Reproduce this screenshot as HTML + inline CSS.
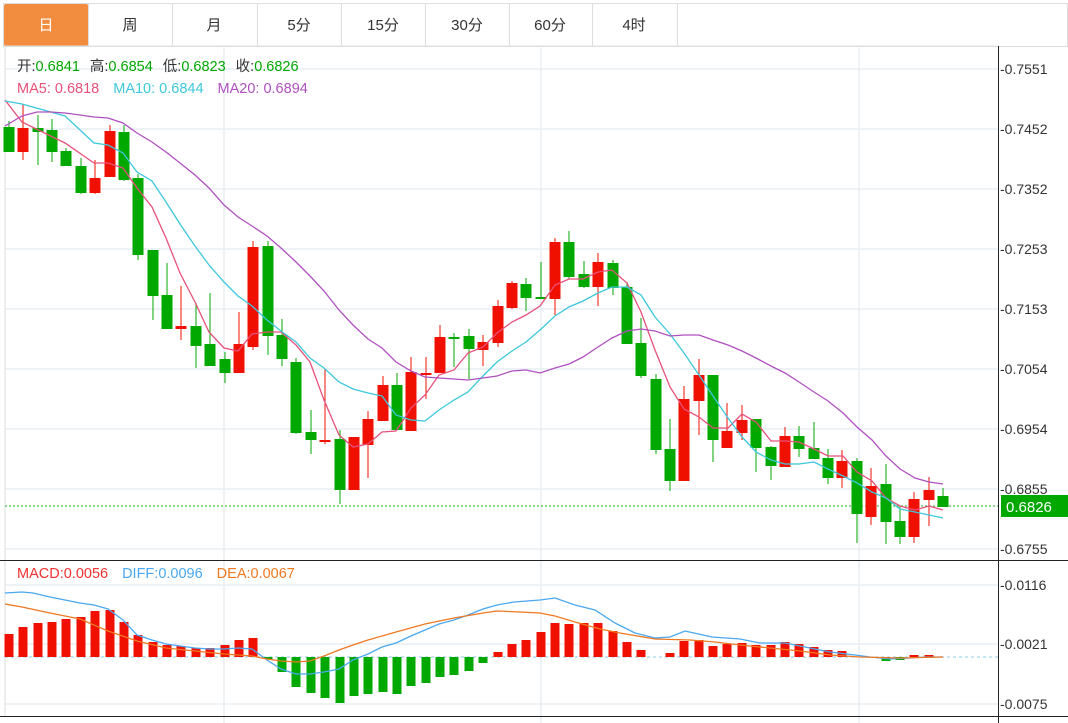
<!DOCTYPE html>
<html><head><meta charset="utf-8"><style>
body{margin:0;background:#fff;width:1068px;height:723px;overflow:hidden;font-family:"Liberation Sans","Noto Sans CJK SC",sans-serif}
svg{position:absolute;left:0;top:0}
.g{fill:#00a800}.r{fill:#f01000}
text{font-family:"Liberation Sans","Noto Sans CJK SC",sans-serif}
</style></head><body>
<svg width="1068" height="723" viewBox="0 0 1068 723">
<!-- tabs -->
<rect x="3.5" y="3.5" width="1064" height="43" fill="#fff" stroke="#ddd"/>
<rect x="4" y="4" width="84" height="42" fill="#f28c3f" rx="2"/>
<g stroke="#ddd"><line x1="88.5" y1="4" x2="88.5" y2="46"/><line x1="172.5" y1="4" x2="172.5" y2="46"/><line x1="257.5" y1="4" x2="257.5" y2="46"/><line x1="341.5" y1="4" x2="341.5" y2="46"/><line x1="425.5" y1="4" x2="425.5" y2="46"/><line x1="509.5" y1="4" x2="509.5" y2="46"/><line x1="592.5" y1="4" x2="592.5" y2="46"/><line x1="677.5" y1="4" x2="677.5" y2="46"/></g>
<g font-size="15" fill="#333" text-anchor="middle">
<text x="46" y="30" fill="#fff">日</text><text x="130" y="30">周</text><text x="214" y="30">月</text><text x="299" y="30">5分</text><text x="383" y="30">15分</text><text x="467" y="30">30分</text><text x="550" y="30">60分</text><text x="634" y="30">4时</text></g>
<!-- grid -->
<g stroke="#e6edf3" stroke-width="1.5">
<line x1="5" y1="69" x2="998" y2="69"/><line x1="5" y1="129" x2="998" y2="129"/><line x1="5" y1="189" x2="998" y2="189"/><line x1="5" y1="249" x2="998" y2="249"/><line x1="5" y1="309" x2="998" y2="309"/><line x1="5" y1="369" x2="998" y2="369"/><line x1="5" y1="429" x2="998" y2="429"/><line x1="5" y1="489" x2="998" y2="489"/><line x1="5" y1="549" x2="998" y2="549"/>
<line x1="5" y1="585" x2="998" y2="585"/><line x1="5" y1="644" x2="998" y2="644"/><line x1="5" y1="704" x2="998" y2="704"/>
<line x1="224" y1="46" x2="224" y2="723"/><line x1="541" y1="46" x2="541" y2="723"/><line x1="859" y1="46" x2="859" y2="723"/>
</g>
<line x1="5" y1="46" x2="998" y2="46" stroke="#e0e0e0"/>
<line x1="5" y1="46" x2="5" y2="717" stroke="#ddd"/>
<line x1="0" y1="560.5" x2="1068" y2="560.5" stroke="#222"/>
<line x1="0" y1="716.5" x2="1068" y2="716.5" stroke="#222"/>
<line x1="998.5" y1="46" x2="998.5" y2="723" stroke="#222"/>
<!-- axis labels -->
<g font-size="14" fill="#333">
<text x="1000" y="74">-0.7551</text><text x="1000" y="134">-0.7452</text><text x="1000" y="194">-0.7352</text><text x="1000" y="254">-0.7253</text><text x="1000" y="314">-0.7153</text><text x="1000" y="374">-0.7054</text><text x="1000" y="434">-0.6954</text><text x="1000" y="494">-0.6855</text><text x="1000" y="554">-0.6755</text>
<text x="1000" y="590">-0.0116</text><text x="1000" y="649">-0.0021</text><text x="1000" y="709">-0.0075</text></g>
<line x1="5" y1="506" x2="998" y2="506" stroke="#1db31d" stroke-dasharray="2,2"/>
<rect x="1001" y="495" width="67" height="22" fill="#00a800"/>
<text x="1006" y="512" font-size="15" fill="#fff">0.6826</text>
<!-- header -->
<g font-size="14.5">
<text x="17" y="71" fill="#333">开:<tspan fill="#00a800">0.6841</tspan><tspan dx="10">高:</tspan><tspan fill="#00a800">0.6854</tspan><tspan dx="10">低:</tspan><tspan fill="#00a800">0.6823</tspan><tspan dx="10">收:</tspan><tspan fill="#00a800">0.6826</tspan></text>
<text x="17" y="93" fill="#e8507a">MA5: 0.6818<tspan dx="14" fill="#3cc8dc">MA10: 0.6844</tspan><tspan dx="14" fill="#b050c0">MA20: 0.6894</tspan></text>
<text x="17" y="578" fill="#f03030">MACD:0.0056<tspan dx="14" fill="#4aa8f0">DIFF:0.0096</tspan><tspan dx="14" fill="#f07820">DEA:0.0067</tspan></text>
</g>
<!-- candles -->
<g>
<rect class="g" x="8.5" y="121" width="1" height="31"/><rect class="g" x="3.5" y="127" width="11" height="25"/>
<rect class="r" x="22.5" y="104" width="1" height="56"/><rect class="r" x="17.5" y="128" width="11" height="24"/>
<rect class="g" x="37.5" y="115" width="1" height="50"/><rect class="g" x="32.5" y="128" width="11" height="4"/>
<rect class="g" x="51.5" y="119" width="1" height="43"/><rect class="g" x="46.5" y="130" width="11" height="22"/>
<rect class="g" x="65.5" y="148" width="1" height="18"/><rect class="g" x="60.5" y="151" width="11" height="15"/>
<rect class="g" x="80.5" y="158" width="1" height="36"/><rect class="g" x="75.5" y="166" width="11" height="27"/>
<rect class="r" x="94.5" y="160" width="1" height="34"/><rect class="r" x="89.5" y="178" width="11" height="15"/>
<rect class="r" x="109.5" y="125" width="1" height="52"/><rect class="r" x="104.5" y="131" width="11" height="46"/>
<rect class="g" x="123.5" y="125" width="1" height="56"/><rect class="g" x="118.5" y="132" width="11" height="48"/>
<rect class="g" x="137.5" y="174" width="1" height="86"/><rect class="g" x="132.5" y="178" width="11" height="77"/>
<rect class="g" x="152.5" y="250" width="1" height="70"/><rect class="g" x="147.5" y="250" width="11" height="46"/>
<rect class="g" x="166.5" y="263" width="1" height="66"/><rect class="g" x="161.5" y="295" width="11" height="34"/>
<rect class="r" x="180.5" y="286" width="1" height="54"/><rect class="r" x="175.5" y="326" width="11" height="3"/>
<rect class="g" x="195.5" y="303" width="1" height="65"/><rect class="g" x="190.5" y="326" width="11" height="20"/>
<rect class="g" x="209.5" y="293" width="1" height="73"/><rect class="g" x="204.5" y="344" width="11" height="22"/>
<rect class="g" x="224.5" y="352" width="1" height="31"/><rect class="g" x="219.5" y="359" width="11" height="14"/>
<rect class="r" x="238.5" y="312" width="1" height="61"/><rect class="r" x="233.5" y="344" width="11" height="29"/>
<rect class="r" x="252.5" y="241" width="1" height="109"/><rect class="r" x="247.5" y="247" width="11" height="100"/>
<rect class="g" x="267.5" y="241" width="1" height="114"/><rect class="g" x="262.5" y="246" width="11" height="90"/>
<rect class="g" x="281.5" y="319" width="1" height="47"/><rect class="g" x="276.5" y="335" width="11" height="24"/>
<rect class="g" x="295.5" y="358" width="1" height="76"/><rect class="g" x="290.5" y="362" width="11" height="71"/>
<rect class="g" x="310.5" y="410" width="1" height="44"/><rect class="g" x="305.5" y="432" width="11" height="8"/>
<rect class="r" x="324.5" y="369" width="1" height="75"/><rect class="r" x="319.5" y="440" width="11" height="2"/>
<rect class="g" x="339.5" y="430" width="1" height="74"/><rect class="g" x="334.5" y="439" width="11" height="51"/>
<rect class="r" x="353.5" y="437" width="1" height="53"/><rect class="r" x="348.5" y="437" width="11" height="53"/>
<rect class="r" x="367.5" y="411" width="1" height="67"/><rect class="r" x="362.5" y="419" width="11" height="26"/>
<rect class="r" x="382.5" y="376" width="1" height="45"/><rect class="r" x="377.5" y="385" width="11" height="36"/>
<rect class="g" x="396.5" y="373" width="1" height="57"/><rect class="g" x="391.5" y="385" width="11" height="45"/>
<rect class="r" x="410.5" y="357" width="1" height="74"/><rect class="r" x="405.5" y="372" width="11" height="59"/>
<rect class="r" x="425.5" y="357" width="1" height="42"/><rect class="r" x="420.5" y="373" width="11" height="2"/>
<rect class="r" x="439.5" y="325" width="1" height="48"/><rect class="r" x="434.5" y="337" width="11" height="36"/>
<rect class="g" x="453.5" y="333" width="1" height="34"/><rect class="g" x="448.5" y="337" width="11" height="2"/>
<rect class="g" x="468.5" y="329" width="1" height="50"/><rect class="g" x="463.5" y="336" width="11" height="13"/>
<rect class="r" x="482.5" y="335" width="1" height="31"/><rect class="r" x="477.5" y="342" width="11" height="8"/>
<rect class="r" x="497.5" y="300" width="1" height="47"/><rect class="r" x="492.5" y="306" width="11" height="37"/>
<rect class="r" x="511.5" y="281" width="1" height="28"/><rect class="r" x="506.5" y="283" width="11" height="25"/>
<rect class="g" x="525.5" y="278" width="1" height="33"/><rect class="g" x="520.5" y="284" width="11" height="14"/>
<rect class="g" x="540.5" y="262" width="1" height="37"/><rect class="g" x="535.5" y="297" width="11" height="2"/>
<rect class="r" x="554.5" y="238" width="1" height="77"/><rect class="r" x="549.5" y="242" width="11" height="57"/>
<rect class="g" x="568.5" y="231" width="1" height="48"/><rect class="g" x="563.5" y="242" width="11" height="35"/>
<rect class="g" x="583.5" y="261" width="1" height="27"/><rect class="g" x="578.5" y="274" width="11" height="13"/>
<rect class="r" x="597.5" y="253" width="1" height="53"/><rect class="r" x="592.5" y="262" width="11" height="25"/>
<rect class="g" x="612.5" y="260" width="1" height="35"/><rect class="g" x="607.5" y="263" width="11" height="25"/>
<rect class="g" x="626.5" y="282" width="1" height="62"/><rect class="g" x="621.5" y="287" width="11" height="57"/>
<rect class="g" x="640.5" y="318" width="1" height="60"/><rect class="g" x="635.5" y="343" width="11" height="33"/>
<rect class="g" x="655.5" y="374" width="1" height="80"/><rect class="g" x="650.5" y="379" width="11" height="71"/>
<rect class="g" x="669.5" y="419" width="1" height="72"/><rect class="g" x="664.5" y="449" width="11" height="32"/>
<rect class="r" x="683.5" y="386" width="1" height="95"/><rect class="r" x="678.5" y="399" width="11" height="82"/>
<rect class="r" x="698.5" y="359" width="1" height="76"/><rect class="r" x="693.5" y="375" width="11" height="26"/>
<rect class="g" x="712.5" y="375" width="1" height="87"/><rect class="g" x="707.5" y="375" width="11" height="65"/>
<rect class="r" x="726.5" y="403" width="1" height="45"/><rect class="r" x="721.5" y="431" width="11" height="17"/>
<rect class="r" x="741.5" y="405" width="1" height="35"/><rect class="r" x="736.5" y="420" width="11" height="13"/>
<rect class="g" x="755.5" y="419" width="1" height="53"/><rect class="g" x="750.5" y="419" width="11" height="29"/>
<rect class="g" x="770.5" y="446" width="1" height="34"/><rect class="g" x="765.5" y="447" width="11" height="19"/>
<rect class="r" x="784.5" y="427" width="1" height="40"/><rect class="r" x="779.5" y="436" width="11" height="31"/>
<rect class="g" x="798.5" y="426" width="1" height="31"/><rect class="g" x="793.5" y="436" width="11" height="13"/>
<rect class="g" x="813.5" y="422" width="1" height="37"/><rect class="g" x="808.5" y="448" width="11" height="11"/>
<rect class="g" x="827.5" y="449" width="1" height="35"/><rect class="g" x="822.5" y="458" width="11" height="20"/>
<rect class="r" x="841.5" y="450" width="1" height="38"/><rect class="r" x="836.5" y="461" width="11" height="17"/>
<rect class="g" x="856.5" y="458" width="1" height="85"/><rect class="g" x="851.5" y="461" width="11" height="53"/>
<rect class="r" x="870.5" y="468" width="1" height="57"/><rect class="r" x="865.5" y="486" width="11" height="31"/>
<rect class="g" x="885.5" y="464" width="1" height="80"/><rect class="g" x="880.5" y="484" width="11" height="38"/>
<rect class="g" x="899.5" y="506" width="1" height="38"/><rect class="g" x="894.5" y="521" width="11" height="16"/>
<rect class="r" x="913.5" y="492" width="1" height="51"/><rect class="r" x="908.5" y="499" width="11" height="38"/>
<rect class="r" x="928.5" y="477" width="1" height="49"/><rect class="r" x="923.5" y="490" width="11" height="10"/>
<rect class="g" x="942.5" y="488" width="1" height="19"/><rect class="g" x="937.5" y="496" width="11" height="11"/>
</g>
<!-- MAs -->
<g fill="none" stroke-width="1.3">
<polyline stroke="#e8507a" points="5,100 22,122 65,143 94,163 108,163 123,168 137,188 152,207 166,238 180,273 195,302 209,332 224,348 238,351 252,334 267,332 281,332 296,345 310,362 324,400 339,435 353,447 368,444 382,432 396,431 411,408 425,395 439,375 454,370 468,353 483,347 497,333 512,322 526,315 540,306 555,285 569,279 583,279 598,272 612,270 627,283 641,312 655,350 670,387 684,409 699,417 713,428 728,428 742,414 756,422 771,441 785,441 799,442 814,449 828,456 843,456 857,472 872,481 886,498 900,506 915,510 929,506 943,510"/>
<polyline stroke="#3cc8dc" points="5,101 22,104 65,116 94,143 108,145 123,153 137,172 152,181 166,202 180,224 195,246 209,265 224,282 238,296 252,306 267,320 281,331 296,342 310,358 324,368 339,382 353,389 368,393 382,396 396,415 411,420 425,421 439,410 454,400 468,392 483,376 497,362 512,351 526,342 540,330 555,316 569,307 583,301 598,293 612,287 627,287 641,295 655,317 670,334 684,353 699,375 713,396 728,418 742,437 756,452 771,460 785,464 799,464 814,462 828,469 843,476 857,483 872,492 886,498 900,509 915,512 929,515 943,518"/>
<polyline stroke="#b050c0" points="5,126 22,116 37,112 51,112 65,113 80,115 94,117 108,118 123,123 137,133 152,142 166,152 180,163 195,175 209,188 224,205 238,217 252,226 267,236 281,248 296,262 310,276 324,291 339,310 353,325 368,339 382,348 396,362 411,371 425,377 439,378 454,379 468,380 483,378 497,376 512,371 526,370 540,373 555,368 569,364 583,357 598,347 612,338 627,331 641,329 655,331 670,336 684,335 699,335 713,340 728,345 742,351 756,358 771,366 785,373 799,382 814,392 828,401 843,413 857,427 872,440 886,456 900,469 915,478 929,482 943,484"/>
</g>
<!-- MACD -->
<line x1="5" y1="657" x2="998" y2="657" stroke="#8cc8e8" stroke-dasharray="3,3"/>
<g>
<rect class="r" x="4.5" y="634" width="9" height="23"/><rect class="r" x="18.5" y="627" width="9" height="30"/><rect class="r" x="33.5" y="623" width="9" height="34"/><rect class="r" x="47.5" y="622" width="9" height="35"/><rect class="r" x="61.5" y="619" width="9" height="38"/><rect class="r" x="76.5" y="617" width="9" height="40"/><rect class="r" x="90.5" y="611" width="9" height="46"/><rect class="r" x="105.5" y="610" width="9" height="47"/><rect class="r" x="119.5" y="622" width="9" height="35"/><rect class="r" x="133.5" y="635" width="9" height="22"/><rect class="r" x="148.5" y="642" width="9" height="15"/><rect class="r" x="162.5" y="645" width="9" height="12"/><rect class="r" x="176.5" y="646" width="9" height="11"/><rect class="r" x="191.5" y="648" width="9" height="9"/><rect class="r" x="205.5" y="648" width="9" height="9"/><rect class="r" x="220.5" y="645" width="9" height="12"/><rect class="r" x="234.5" y="640" width="9" height="17"/><rect class="r" x="248.5" y="638" width="9" height="19"/>
<rect class="g" x="263.5" y="657" width="9" height="2"/><rect class="g" x="277.5" y="657" width="9" height="15"/><rect class="g" x="291.5" y="657" width="9" height="30"/><rect class="g" x="306.5" y="657" width="9" height="36"/><rect class="g" x="320.5" y="657" width="9" height="41"/><rect class="g" x="335.5" y="657" width="9" height="46"/><rect class="g" x="349.5" y="657" width="9" height="39"/><rect class="g" x="363.5" y="657" width="9" height="37"/><rect class="g" x="378.5" y="657" width="9" height="35"/><rect class="g" x="392.5" y="657" width="9" height="37"/><rect class="g" x="406.5" y="657" width="9" height="29"/><rect class="g" x="421.5" y="657" width="9" height="26"/><rect class="g" x="435.5" y="657" width="9" height="20"/><rect class="g" x="449.5" y="657" width="9" height="18"/><rect class="g" x="464.5" y="657" width="9" height="14"/><rect class="g" x="478.5" y="657" width="9" height="6"/>
<rect class="r" x="493.5" y="652" width="9" height="5"/><rect class="r" x="507.5" y="644" width="9" height="13"/><rect class="r" x="521.5" y="640" width="9" height="17"/><rect class="r" x="536.5" y="632" width="9" height="25"/><rect class="r" x="550.5" y="623" width="9" height="34"/><rect class="r" x="564.5" y="624" width="9" height="33"/><rect class="r" x="579.5" y="623" width="9" height="34"/><rect class="r" x="593.5" y="623" width="9" height="34"/><rect class="r" x="608.5" y="631" width="9" height="26"/><rect class="r" x="622.5" y="642" width="9" height="15"/><rect class="r" x="636.5" y="650" width="9" height="7"/>
<rect class="r" x="665.5" y="653" width="9" height="4"/><rect class="r" x="679.5" y="641" width="9" height="16"/><rect class="r" x="694.5" y="640" width="9" height="17"/><rect class="r" x="708.5" y="646" width="9" height="11"/><rect class="r" x="722.5" y="644" width="9" height="13"/><rect class="r" x="737.5" y="643" width="9" height="14"/><rect class="r" x="751.5" y="645" width="9" height="12"/><rect class="r" x="766.5" y="645" width="9" height="12"/><rect class="r" x="780.5" y="642" width="9" height="15"/><rect class="r" x="794.5" y="644" width="9" height="13"/><rect class="r" x="809.5" y="647" width="9" height="10"/><rect class="r" x="823.5" y="650" width="9" height="7"/><rect class="r" x="837.5" y="651" width="9" height="6"/>
<rect class="g" x="881.5" y="657" width="9" height="4"/><rect class="g" x="895.5" y="657" width="9" height="3"/><rect class="r" x="909.5" y="655" width="9" height="2"/><rect class="r" x="924.5" y="655" width="9" height="2"/>
</g>
<g fill="none" stroke-width="1.3">
<polyline stroke="#4aa8f0" points="5,593 22,592 33,593 50,597 80,603 94,605 108,609 123,620 137,635 152,640 166,644 180,646 195,648 209,649 224,649 238,648 252,649 267,660 281,669 296,674 310,674 324,672 339,669 353,660 368,654 382,647 396,643 411,636 425,630 439,624 454,620 468,615 483,609 497,605 514,602 540,600 555,598 575,605 595,610 615,623 635,633 655,638 670,637 685,631 712,637 740,639 760,643 785,643 805,647 830,652 855,655 870,657 890,659 910,658 925,657 943,657"/>
<polyline stroke="#f07820" points="5,604 22,607 50,613 80,619 108,631 137,641 166,648 195,651 224,654 252,656 267,659 281,661 296,662 310,661 324,656 339,650 353,645 368,640 396,632 425,624 454,618 483,613 497,611 520,612 540,613 555,616 575,622 600,629 620,633 655,639 690,640 715,642 740,645 770,648 800,651 830,655 860,657 900,658 943,657"/>
</g>
</svg>
</body></html>
